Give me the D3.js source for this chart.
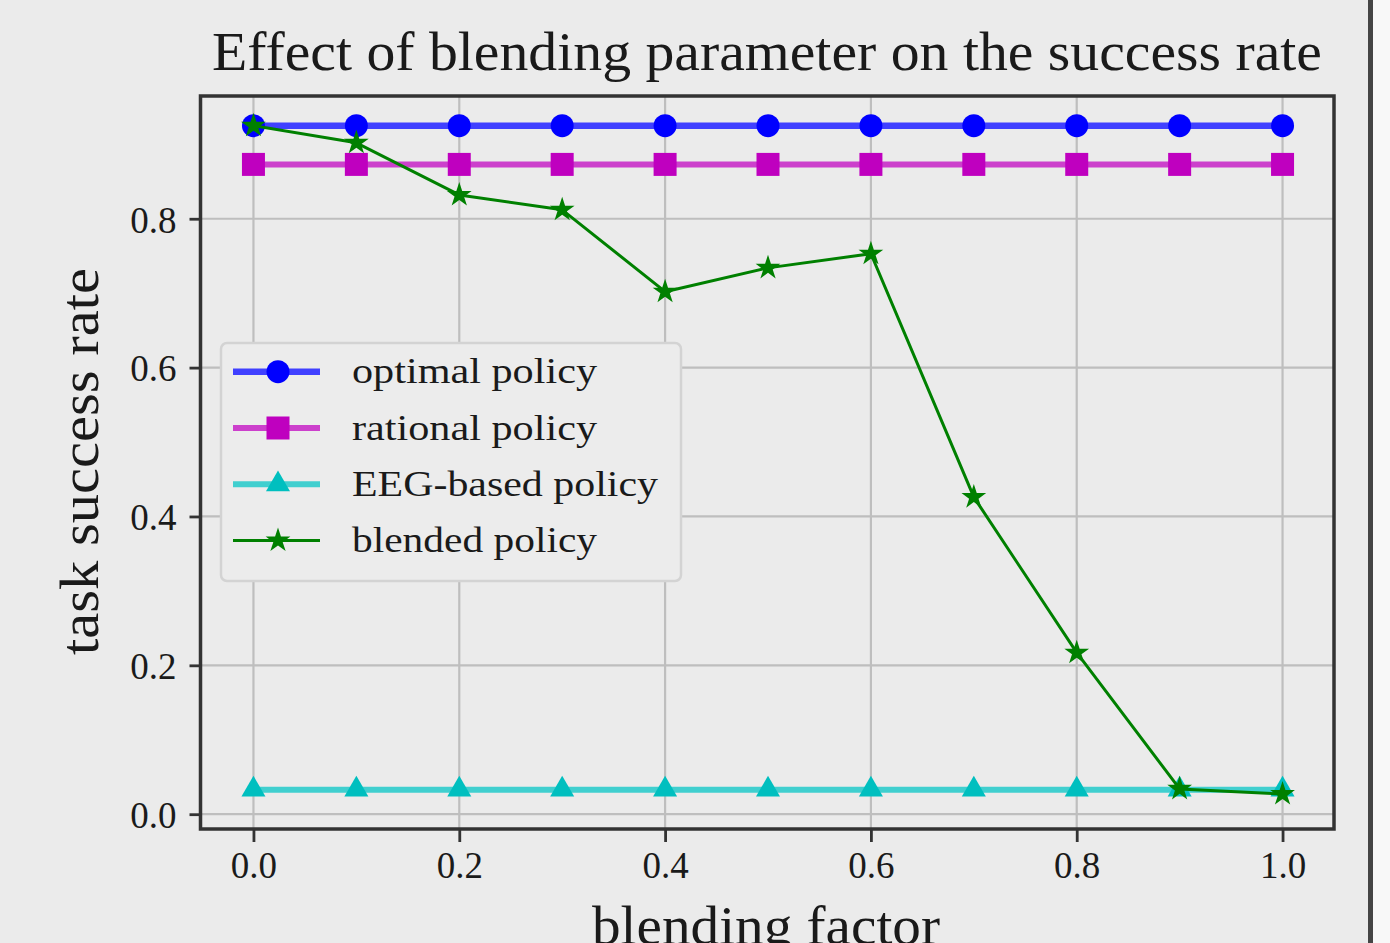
<!DOCTYPE html>
<html>
<head>
<meta charset="utf-8">
<script src="https://cdn.jsdelivr.net/npm/d3@7"></script>
<style>
  html, body { margin: 0; padding: 0; background: #ebebeb; }
  svg { display: block; }
  text { font-family: "Liberation Serif", "DejaVu Serif", serif; fill: #1a1a1a; }
</style>
</head>
<body>
<svg id="chart" width="1390" height="943"></svg>
<script>
// ---- data ----
const blendingFactor = [0.0, 0.1, 0.2, 0.3, 0.4, 0.5, 0.6, 0.7, 0.8, 0.9, 1.0];
const optimalPolicy  = [0.925, 0.925, 0.925, 0.925, 0.925, 0.925, 0.925, 0.925, 0.925, 0.925, 0.925];
const rationalPolicy = [0.873, 0.873, 0.873, 0.873, 0.873, 0.873, 0.873, 0.873, 0.873, 0.873, 0.873];
const eegPolicy      = [0.033, 0.033, 0.033, 0.033, 0.033, 0.033, 0.033, 0.033, 0.033, 0.033, 0.033];
const blendedPolicy  = [0.925, 0.902, 0.832, 0.812, 0.702, 0.734, 0.753, 0.426, 0.217, 0.034, 0.027];
const xTicks = [0.0, 0.2, 0.4, 0.6, 0.8, 1.0];
const yTicks = [0.0, 0.2, 0.4, 0.6, 0.8];
const seriesNames = ["optimal policy", "rational policy", "EEG-based policy", "blended policy"];
const titleText = "Effect of blending parameter on the success rate";
const xLabel = "blending factor";
const yLabel = "task success rate";

// ---- layout ----
const svg = d3.select("#chart");
const frame = { left: 200.5, right: 1334, top: 96, bottom: 829 };

const x = d3.scaleLinear().domain([-0.05, 1.05]).range([frame.left + 1.5, frame.right]);
const y = d3.scaleLinear().domain([-0.0199, 0.9649]).range([frame.bottom, frame.top]);

// right edge strip (page border in the reference)
svg.append("rect").attr("x", 1368).attr("y", 0).attr("width", 5).attr("height", 943).attr("fill", "#454545");
svg.append("rect").attr("x", 1373).attr("y", 0).attr("width", 17).attr("height", 943).attr("fill", "#f8f8f8");

// grid
const grid = svg.append("g");
grid.selectAll(".gx").data(xTicks).join("line")
  .attr("x1", d => x(d)).attr("x2", d => x(d))
  .attr("y1", frame.top).attr("y2", frame.bottom)
  .attr("stroke", "#bebebe").attr("stroke-width", 2.2);
grid.selectAll(".gy").data(yTicks).join("line")
  .attr("x1", frame.left).attr("x2", frame.right)
  .attr("y1", d => y(d)).attr("y2", d => y(d))
  .attr("stroke", "#bebebe").attr("stroke-width", 2.2);

// axes (ticks + labels)
const xAxis = d3.axisBottom(x).tickValues(xTicks).tickFormat(d3.format(".1f")).tickSize(13).tickPadding(10);
const yAxis = d3.axisLeft(y).tickValues(yTicks).tickFormat(d3.format(".1f")).tickSize(11).tickPadding(13);

const gx = svg.append("g").attr("transform", `translate(0,${frame.bottom})`).call(xAxis);
const gy = svg.append("g").attr("transform", `translate(${frame.left},0)`).call(yAxis);
[gx, gy].forEach(g => {
  g.select(".domain").remove();
  g.selectAll(".tick line").attr("stroke", "#333").attr("stroke-width", 2.8);
  g.selectAll(".tick text").attr("font-size", 37).attr("fill", "#3a3a3a")
    .attr("font-family", "'Liberation Serif', serif");
});
gx.selectAll(".tick text").attr("dy", null).attr("y", 49);
gy.selectAll(".tick text").attr("dy", "0.36em");

// series
const seriesDefs = [
  { name: seriesNames[0], values: optimalPolicy,  line: "#4040ff", mark: "#0000ff", width: 6.5, symbol: d3.symbolCircle,   size: 415 },
  { name: seriesNames[1], values: rationalPolicy, line: "#cc40cc", mark: "#bf00bf", width: 6,   symbol: d3.symbolSquare,   size: 529 },
  { name: seriesNames[2], values: eegPolicy,      line: "#40cfcf", mark: "#00bfbf", width: 6,   symbol: d3.symbolTriangle, size: 250 },
  { name: seriesNames[3], values: blendedPolicy,  line: "#008000", mark: "#008000", width: 3,   symbol: d3.symbolStar,     size: 190 }
];

const lineGen = d3.line().x(d => x(d[0])).y(d => y(d[1]));
const plot = svg.append("g");
seriesDefs.forEach(s => {
  const pts = blendingFactor.map((b, i) => [b, s.values[i]]);
  const g = plot.append("g");
  g.append("path").datum(pts).attr("d", lineGen)
    .attr("fill", "none").attr("stroke", s.line).attr("stroke-width", s.width)
    .attr("stroke-linejoin", "round");
  g.selectAll("path.m").data(pts).join("path").attr("class", "m")
    .attr("d", d3.symbol().type(s.symbol).size(s.size))
    .attr("transform", d => `translate(${x(d[0])},${y(d[1])})`)
    .attr("fill", s.mark);
});

// frame
svg.append("rect")
  .attr("x", frame.left).attr("y", frame.top)
  .attr("width", frame.right - frame.left).attr("height", frame.bottom - frame.top)
  .attr("fill", "none").attr("stroke", "#333").attr("stroke-width", 3.5);

// legend
const leg = svg.append("g");
leg.append("rect").attr("x", 221).attr("y", 343).attr("width", 460).attr("height", 238)
  .attr("rx", 6).attr("ry", 6)
  .attr("fill", "#ececec").attr("stroke", "#d3d3d3").attr("stroke-width", 2.5);
const legLens = [245, 245, 306, 245];
seriesDefs.forEach((s, i) => {
  const cy = 371.7 + i * 56.3;
  leg.append("line").attr("x1", 233).attr("x2", 320).attr("y1", cy).attr("y2", cy)
    .attr("stroke", s.line).attr("stroke-width", s.width);
  leg.append("path").attr("d", d3.symbol().type(s.symbol).size(s.size))
    .attr("transform", `translate(278,${cy})`).attr("fill", s.mark);
  leg.append("text").attr("x", 352).attr("y", cy + 11.5)
    .attr("font-size", 36).attr("fill", "#2a2a2a")
    .attr("textLength", legLens[i]).attr("lengthAdjust", "spacingAndGlyphs")
    .text(s.name);
});

// title
svg.append("text").attr("x", 212).attr("y", 70)
  .attr("font-size", 55).attr("fill", "#1a1a1a")
  .attr("textLength", 1110).attr("lengthAdjust", "spacingAndGlyphs")
  .text(titleText);

// axis labels
svg.append("text").attr("x", 592).attr("y", 944)
  .attr("font-size", 54).attr("fill", "#1a1a1a")
  .attr("textLength", 348).attr("lengthAdjust", "spacingAndGlyphs")
  .text(xLabel);
svg.append("text")
  .attr("transform", "translate(98,655) rotate(-90)")
  .attr("x", 0).attr("y", 0)
  .attr("font-size", 54).attr("fill", "#1a1a1a")
  .attr("textLength", 387).attr("lengthAdjust", "spacingAndGlyphs")
  .text(yLabel);
</script>
</body>
</html>
